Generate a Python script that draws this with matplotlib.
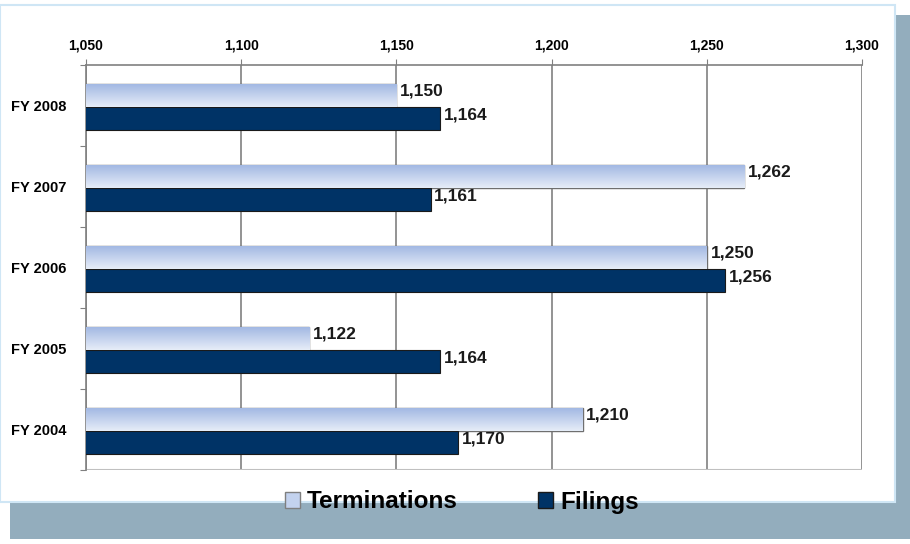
import numpy as np
import matplotlib
matplotlib.use('Agg')
import matplotlib.pyplot as plt
from matplotlib.patches import Rectangle, Patch

plt.rcParams['font.family'] = ['Liberation Sans', 'DejaVu Sans']
plt.rcParams['font.weight'] = 'bold'

# 数据
years = ['FY 2004', 'FY 2005', 'FY 2006', 'FY 2007', 'FY 2008']
terminations = [1210, 1122, 1250, 1262, 1150]
filings = [1170, 1164, 1256, 1161, 1164]
x_ticks = [1050, 1100, 1150, 1200, 1250, 1300]

fig = plt.figure(figsize=(9.1, 5.44), dpi=100)

# 阴影和白色面板
fig.patches.append(Rectangle((10 / 910, 0.01), 0.99, 1 - 15 / 544 - 0.01,
                             transform=fig.transFigure, facecolor='#93adbd',
                             edgecolor='none', zorder=-2))
fig.patches.append(Rectangle((0, 1 - 502 / 544), 895 / 910, 497 / 544,
                             transform=fig.transFigure, facecolor='white',
                             edgecolor='#cfe6f5', linewidth=1.5, zorder=-1))

ax = fig.add_axes([86 / 910, 1 - 470 / 544, 776 / 910, 405 / 544])
ax.set_facecolor('none')

y = np.arange(len(years))
h = 0.285
off = 0.02
term_bars = ax.barh(y + h / 2 - off, terminations, height=h,
                    color='#c3d2ee', edgecolor='#6f6f6f', linewidth=1.0, zorder=3)
fil_bars = ax.barh(y - h / 2 - off, filings, height=h,
                   color='#003366', edgecolor='#1a1a1a', linewidth=0.8, zorder=3)

# 渐变填充
grad = np.linspace(0, 1, 100).reshape(-1, 1)
cmap = matplotlib.colors.LinearSegmentedColormap.from_list('g', ['#9fb6e2', '#e6edf8'])
for bar in term_bars:
    y0 = bar.get_y()
    im = ax.imshow(grad, cmap=cmap, aspect='auto', origin='upper',
                   extent=[1050, bar.get_width(), y0, y0 + bar.get_height()], zorder=3.5)
    im.set_clip_path(bar)
ax.set_xlim(1050, 1300)
ax.set_ylim(-0.5, len(years) - 0.5)

for bar, v in zip(term_bars, terminations):
    ax.text(v + 1.2, bar.get_y() + bar.get_height() * 0.7, f'{v:,}',
            va='center', ha='left', fontsize=12.5, fontweight='bold', color='#1a1a1a', zorder=5)
for bar, v in zip(fil_bars, filings):
    ax.text(v + 1.2, bar.get_y() + bar.get_height() * 0.65, f'{v:,}',
            va='center', ha='left', fontsize=12.5, fontweight='bold', color='#1a1a1a', zorder=5)

ax.xaxis.tick_top()
ax.set_xticks(x_ticks)
ax.set_xticklabels([f'{t:,}' for t in x_ticks], fontsize=10, fontweight='bold')
ax.tick_params(axis='x', length=4, color='#808080', pad=5)
ax.set_yticks(np.arange(len(years) + 1) - 0.5, minor=False)
ax.set_yticklabels([])
ax.set_yticks(y, minor=True)
ax.set_yticklabels(years, minor=True, fontsize=10.5, fontweight='bold')
ax.tick_params(axis='y', which='major', length=4, color='#808080')
ax.tick_params(axis='y', which='minor', length=0, pad=14)

ax.grid(axis='x', color='#808080', linewidth=1.2, zorder=0)
ax.set_axisbelow(True)
for s in ['left', 'top']:
    ax.spines[s].set_color('#808080')
    ax.spines[s].set_linewidth(1.2)
for s in ['right', 'bottom']:
    ax.spines[s].set_visible(False)
ax.axhline(-0.5, color='#c0c0c0', linewidth=1.5, zorder=1)

# 图例
handles = [Patch(facecolor='#c3d2ee', edgecolor='#7f7f7f'),
           Patch(facecolor='#003366', edgecolor='#1a1a1a')]
fig.legend(handles, ['Terminations', 'Filings'], loc='center',
           bbox_to_anchor=(462 / 910, 1 - 502 / 544), ncol=2, frameon=False,
           prop={'size': 17.5, 'weight': 'bold'}, handlelength=0.6, handleheight=0.6,
           handletextpad=0.3, columnspacing=3.3)

fig.savefig('out.png', dpi=100)
